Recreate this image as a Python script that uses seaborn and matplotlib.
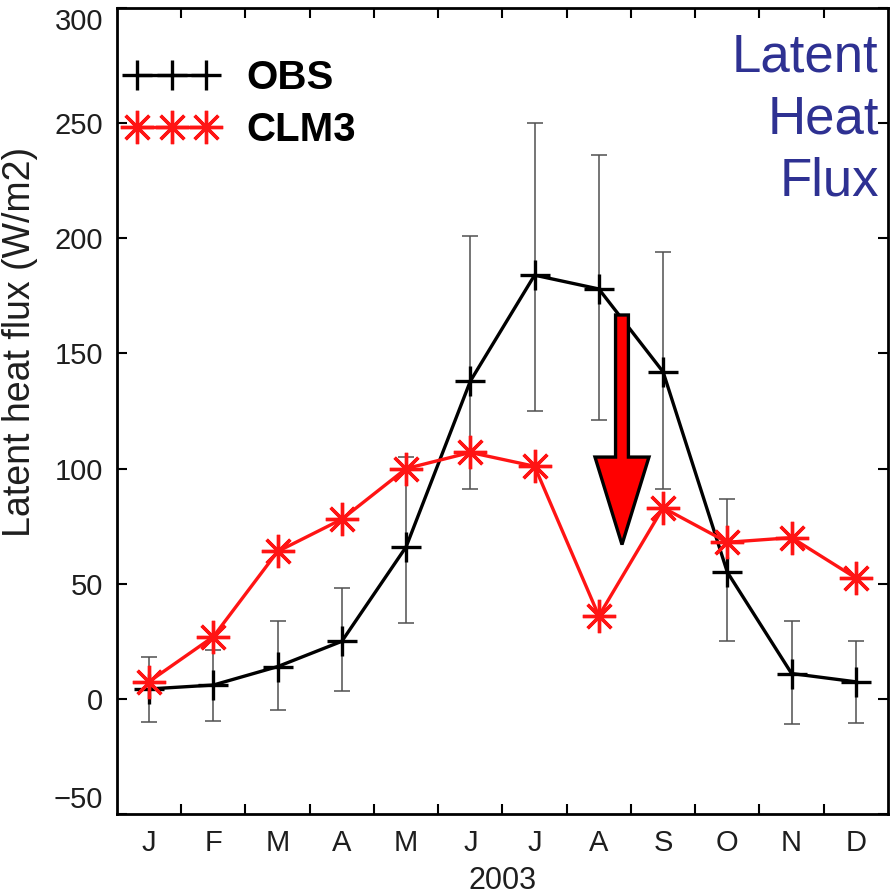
import numpy as np
import pandas as pd
import matplotlib
matplotlib.use("Agg")
import matplotlib.pyplot as plt
import seaborn as sns

# Monthly latent heat flux, 2003 (W/m2)
months = ["J", "F", "M", "A", "M", "J", "J", "A", "S", "O", "N", "D"]
obs_mean = [4.3, 6.0, 14.0, 25.0, 66.0, 138.0, 184.0, 178.0, 142.0, 55.0, 11.0, 7.4]
obs_upper = [18.0, 21.0, 34.0, 48.0, 105.0, 201.0, 250.0, 236.0, 194.0, 87.0, 34.0, 25.0]
obs_lower = [-10.0, -9.5, -5.0, 3.5, 33.0, 91.0, 125.0, 121.0, 91.0, 25.0, -11.0, -10.5]
clm3_mean = [7.5, 27.0, 64.0, 78.0, 100.0, 107.0, 101.0, 36.0, 83.0, 68.0, 70.0, 52.5]
y_ticks = [-50, 0, 50, 100, 150, 200, 250, 300]

sns.set_style("ticks")
plt.rcParams["font.family"] = ["Liberation Sans", "DejaVu Sans"]

RED = "#ff1414"
TXT = "#1e1e1e"
pos = np.arange(len(months)) + 0.5
df = pd.DataFrame({
    "x": np.concatenate([pos, pos]),
    "flux": obs_mean + clm3_mean,
    "series": ["OBS"] * 12 + ["CLM3"] * 12,
})

fig = plt.figure(figsize=(8.91, 8.94), dpi=100)
ax = fig.add_axes([0.1313, 0.0895, 0.8653, 0.9015])

sns.lineplot(data=df, x="x", y="flux", hue="series", style="series",
             palette={"OBS": "black", "CLM3": RED},
             markers={"OBS": "+", "CLM3": (8, 2, 0)},
             dashes={"OBS": "", "CLM3": ""},
             linewidth=2.4, ax=ax, legend=False, zorder=3)
for ln in ax.lines:
    c = ln.get_color()
    ln.set_markeredgecolor(c)
    ln.set_markerfacecolor(c)
    ln.set_markeredgewidth(2.4)
    ln.set_markersize(22 if ln.get_marker() == "+" else 24)

# error bars for observations
yerr = np.array([np.array(obs_mean) - np.array(obs_lower),
                 np.array(obs_upper) - np.array(obs_mean)])
ax.errorbar(pos, obs_mean, yerr=yerr, fmt="none", ecolor="#505050",
            elinewidth=1.1, capsize=6, capthick=1.1, zorder=1)

# legend with three markers per entry
h1, = ax.plot([], [], color="black", marker="+", markersize=22,
              markeredgewidth=2.4, linewidth=2.4)
h2, = ax.plot([], [], color=RED, marker=(8, 2, 0), markersize=24,
              markeredgewidth=2.4, linewidth=2.4)
leg = ax.legend([h1, h2], ["OBS", "CLM3"], loc="upper left", frameon=False,
                numpoints=3, handlelength=2.3, handletextpad=0.72,
                prop={"size": 29, "weight": "bold"}, borderaxespad=0,
                borderpad=0.3, bbox_to_anchor=(-0.005, 0.952),
                labelspacing=0.36)
for t in leg.get_texts():
    t.set_color("black")

# downward arrow marking the August drop
ax.arrow(7.86, 166.7, 0, -99.7, width=0.2, head_width=0.84, head_length=38,
         length_includes_head=True, fc="red", ec="black", lw=2.4, zorder=5)

ax.text(0.988, 0.9695, "Latent\nHeat\nFlux", transform=ax.transAxes,
        ha="right", va="top", fontsize=38, color="#2e3192", linespacing=1.3)

ax.set_xlim(0, 12)
ax.set_ylim(-50, 300)
ax.set_xticks(np.arange(1, 12))
ax.set_xticklabels([])
ax.set_xticks(pos, minor=True)
ax.set_xticklabels(months, minor=True, fontsize=21, color=TXT)
ax.tick_params(axis="x", which="minor", length=0, pad=11)
ax.set_yticks(y_ticks)
ylabels = ax.set_yticklabels([str(t).replace("-", "\u2212") for t in y_ticks],
                             fontsize=21, color=TXT)
# end labels kept inside the figure
ylabels[-1].set_va("top")
ylabels[0].set_va("bottom")
ax.tick_params(axis="both", which="major", direction="in", length=7, width=1.5,
               top=True, right=True, colors="black", pad=10)
for t in ax.get_yticklabels():
    t.set_color(TXT)
for s in ax.spines.values():
    s.set_linewidth(2.0)
    s.set_color("black")

ax.set_xlabel("2003", fontsize=22, color=TXT, labelpad=6)
ax.set_ylabel("Latent heat flux (W/m2)", fontsize=27, color=TXT)
ax.yaxis.set_label_coords(-0.102, 0.586)

fig.savefig("out.png", dpi=100)
